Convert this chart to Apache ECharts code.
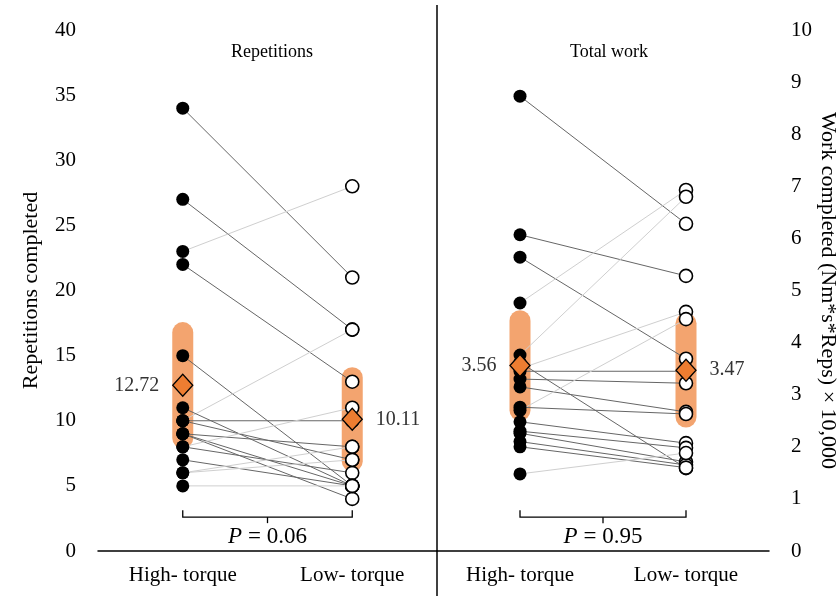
<!DOCTYPE html>
<html>
<head>
<meta charset="utf-8">
<script src="https://cdn.jsdelivr.net/npm/echarts@6/dist/echarts.min.js"></script>
<style>
  html, body { margin: 0; padding: 0; background: #fff; }
  #main { width: 840px; height: 596px; }
</style>
</head>
<body>
<div id="main"></div>
<script>
  // groups on both panels
  const groups = ['High- torque', 'Low- torque']
  const panelTitles = ['Repetitions', 'Total work']

  // repetitions completed, one entry per subject (high / low torque)
  const repsHigh = [34, 27, 23, 22, 15, 10, 10, 11, 10, 9, 9, 9, 8, 8, 7, 6, 6, 5]
  const repsLow  = [21, 17, 28, 13, 5, 17, 10, 5, 7, 8, 5, 4, 11, 6, 5, 8, 7, 5]
  const repsMean = [12.72, 10.11]
  const repsCI   = [[8.67, 16.77], [6.9, 13.3]]
  const repsP    = 0.06

  // total work (Nm*s*Reps x 10,000)
  const workHigh = [8.73, 6.07, 5.64, 4.76, 3.76, 3.62, 3.5, 3.45, 3.3, 3.15, 2.76, 2.7, 2.48, 2.3, 2.26, 2.1, 2.0, 1.48]
  const workLow  = [6.28, 5.28, 3.69, 6.93, 6.8, 1.59, 4.59, 3.45, 3.22, 2.67, 2.63, 4.45, 2.07, 1.98, 1.71, 1.65, 1.6, 1.88]
  const workMean = [3.56, 3.47]
  const workCI   = [[2.70, 4.42], [2.57, 4.37]]
  const workP    = 0.95

  const font = 'Liberation Serif'
  const chart = echarts.init(document.getElementById('main'))

  function pairSeries(idx, hi, lo) {
    return {
      type: 'custom', xAxisIndex: idx, yAxisIndex: idx, z: 2, silent: true,
      encode: { x: [0, 2], y: [1, 3] },
      data: hi.map((v, i) => [0, v, 1, lo[i]]),
      renderItem: (params, api) => {
        const a = api.coord([0, api.value(1)])
        const b = api.coord([1, api.value(3)])
        // rises and the lowest flat pair are drawn pale
        const pale = api.value(3) > api.value(1) || (api.value(3) === api.value(1) && params.dataIndex === hi.length - 1)
        return {
          type: 'line',
          shape: { x1: a[0], y1: a[1], x2: b[0], y2: b[1] },
          style: { stroke: pale ? '#cfcfcf' : '#666', lineWidth: 1 }
        }
      }
    }
  }

  function bandSeries(idx, ci) {
    return {
      type: 'custom', xAxisIndex: idx, yAxisIndex: idx, z: 1, silent: true,
      encode: { x: 0, y: [1, 2] },
      data: ci.map((c, i) => [i, c[0], c[1]]),
      renderItem: (params, api) => {
        const a = api.coord([api.value(0), api.value(1)])
        const b = api.coord([api.value(0), api.value(2)])
        return {
          type: 'line',
          shape: { x1: a[0], y1: a[1], x2: b[0], y2: b[1] },
          style: { stroke: '#f3a46f', lineWidth: 21, lineCap: 'round' }
        }
      }
    }
  }

  function dotSeries(idx, vals, x, filled) {
    return {
      type: 'scatter', xAxisIndex: idx, yAxisIndex: idx, z: 3, silent: true,
      symbol: 'circle', symbolSize: 13,
      itemStyle: filled
        ? { color: '#000', opacity: 1 }
        : { color: '#fff', borderColor: '#000', borderWidth: 1.6, opacity: 1 },
      data: vals.map(v => [x, v])
    }
  }

  function meanSeries(idx, means) {
    return {
      type: 'scatter', xAxisIndex: idx, yAxisIndex: idx, z: 4, silent: true,
      symbol: 'diamond', symbolSize: [20, 22],
      itemStyle: { color: '#ed7d31', borderColor: '#000', borderWidth: 1.3, opacity: 1 },
      label: {
        show: true, fontFamily: font, fontSize: 20, color: '#333', distance: 13,
        formatter: p => p.value[1].toFixed(2)
      },
      data: means.map((m, i) => ({ value: [i, m], label: { position: i === 0 ? 'left' : 'right' } }))
    }
  }

  function bracketSeries(idx, yVal, p) {
    return {
      type: 'custom', xAxisIndex: idx, yAxisIndex: idx, z: 5, silent: true,
      encode: { x: 0, y: 1 },
      data: [[0, yVal]],
      renderItem: (params, api) => {
        const a = api.coord([0, api.value(1)])
        const b = api.coord([1, api.value(1)])
        const mx = (a[0] + b[0]) / 2
        return {
          type: 'group',
          children: [
            { type: 'polyline', shape: { points: [[a[0], a[1] - 7], [a[0], a[1]], [b[0], a[1]], [b[0], a[1] - 7]] },
              style: { stroke: '#000', lineWidth: 1.3, fill: null } },
            { type: 'line', shape: { x1: mx, y1: a[1], x2: mx, y2: a[1] + 6 },
              style: { stroke: '#000', lineWidth: 1.3 } },
            { type: 'text', x: mx, y: a[1] + 20,
              style: {
                text: '{i|P} = ' + p.toFixed(2),
                rich: { i: { fontStyle: 'italic', fontFamily: font, fontSize: 23, fill: '#000' } },
                fontFamily: font, fontSize: 23, fill: '#000',
                align: 'center', verticalAlign: 'middle'
              } }
          ]
        }
      }
    }
  }

  const xBase = {
    type: 'category', data: groups,
    axisLine: { lineStyle: { color: '#000', width: 1.5 } },
    axisTick: { show: false },
    axisLabel: { fontFamily: font, fontSize: 21, color: '#000', margin: 14 }
  }
  const yBase = {
    type: 'value',
    axisLine: { show: false }, axisTick: { show: false }, splitLine: { show: false },
    axisLabel: { fontFamily: font, fontSize: 21, color: '#000', margin: 22 },
    nameLocation: 'middle',
    nameTextStyle: { fontFamily: font, fontSize: 22, color: '#000' }
  }

  const option = {
    backgroundColor: '#fff',
    animation: false,
    title: [
      { text: panelTitles[0], left: 267, top: 38, textAlign: 'center',
        textStyle: { fontFamily: font, fontSize: 18, fontWeight: 'normal', color: '#000' } },
      { text: panelTitles[1], left: 604, top: 38, textAlign: 'center',
        textStyle: { fontFamily: font, fontSize: 18, fontWeight: 'normal', color: '#000' } }
    ],
    grid: [
      { left: 98, right: 403, top: 30, bottom: 45 },
      { left: 437, right: 68, top: 30, bottom: 45 }
    ],
    xAxis: [
      Object.assign({ gridIndex: 0 }, xBase),
      Object.assign({ gridIndex: 1 }, xBase)
    ],
    yAxis: [
      Object.assign({}, yBase, { gridIndex: 0, min: 0, max: 40, interval: 5,
        name: 'Repetitions completed', nameGap: 56 }),
      Object.assign({}, yBase, { gridIndex: 1, position: 'right', min: 0, max: 10, interval: 1,
        name: 'Work completed (Nm*s*Reps) \u00d7 10,000', nameRotate: -90, nameGap: 48 })
    ],
    graphic: [
      { type: 'line', shape: { x1: 437, y1: 5, x2: 437, y2: 596 },
        style: { stroke: '#000', lineWidth: 1.5 }, z: 10 }
    ],
    series: [
      bandSeries(0, repsCI),
      pairSeries(0, repsHigh, repsLow),
      dotSeries(0, repsHigh, 0, true),
      dotSeries(0, repsLow, 1, false),
      meanSeries(0, repsMean),
      bracketSeries(0, 2.6, repsP),
      bandSeries(1, workCI),
      pairSeries(1, workHigh, workLow),
      dotSeries(1, workHigh, 0, true),
      dotSeries(1, workLow, 1, false),
      meanSeries(1, workMean),
      bracketSeries(1, 0.65, workP)
    ]
  }
  chart.setOption(option)
</script>
</body>
</html>
